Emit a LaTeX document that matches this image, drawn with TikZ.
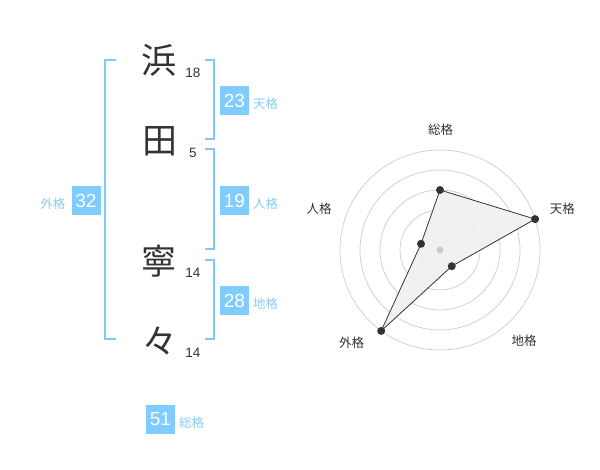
\documentclass[tikz,border=0pt]{standalone}
\usepackage{fontspec}
\setmainfont{Liberation Sans}
\newfontfamily\jp{Noto Sans CJK JP}
\definecolor{brk}{HTML}{80C8FA}
\definecolor{boxc}{HTML}{80CCFF}
\definecolor{lbl}{HTML}{88CCF2}
\definecolor{ink}{HTML}{333333}
\definecolor{ring}{HTML}{CCCCCC}
\tikzset{
  kanji/.style={font=\jp\fontsize{35}{35}\selectfont, text=ink, inner sep=0pt},
  strokes/.style={font=\fontsize{13.5}{14}\selectfont, text=ink, inner sep=0pt},
  numbox/.style={fill=boxc, minimum width=29pt, minimum height=29pt, inner sep=0pt, text=white, font=\fontsize{19}{19}\selectfont},
  kaku/.style={font=\jp\fontsize{12.5}{13}\selectfont, text=lbl, inner sep=0pt},
  bracket/.style={draw=brk, line width=2pt},
  radlbl/.style={font=\jp\fontsize{12.5}{13}\selectfont, text=ink, inner sep=0pt},
  ringc/.style={draw=ring, line width=0.7pt},
  dot/.style={circle, fill=ink, minimum size=8pt, inner sep=0pt},
}
\begin{document}
\begin{tikzpicture}[x=1pt,y=-1pt]
\useasboundingbox (0,0) rectangle (600,470);
% characters
\node[kanji] (c1) at (159,60) {浜};
\node[kanji] (c2) at (160,141) {田};
\node[kanji] (c3) at (159,261) {寧};
\node[kanji] (c4) at (160,341) {々};
\node[strokes] (s1) at (193,73.3) {18};
\node[strokes] (s2) at (193,152.7) {5};
\node[strokes] (s3) at (193,273.3) {14};
\node[strokes] (s4) at (193,353.3) {14};
% brackets
\draw[bracket] (115.7,60) -- (105,60) -- (105,339.5) -- (115.7,339.5);
\draw[bracket] (205,60) -- (214.3,60) -- (214.3,139.3) -- (205,139.3);
\draw[bracket] (205,149.3) -- (214.3,149.3) -- (214.3,249.3) -- (205,249.3);
\draw[bracket] (205,260) -- (214.3,260) -- (214.3,339.5) -- (205,339.5);
% boxes
\node[numbox] (b23) at (234.5,100.5) {23};
\node[kaku, anchor=west] (l23) at (253,104) {天格};
\node[numbox] (b19) at (234.5,200.5) {19};
\node[kaku, anchor=west] (l19) at (253,204) {人格};
\node[numbox] (b28) at (234.5,300.5) {28};
\node[kaku, anchor=west] (l28) at (253,304) {地格};
\node[numbox] (b32) at (86,200.5) {32};
\node[kaku, anchor=east] (l32) at (65.5,204) {外格};
\node[numbox] (b51) at (160.5,419) {51};
\node[kaku, anchor=west] (l51) at (179,423) {総格};
% radar
\coordinate (ctr) at (440,250);
\foreach \r in {20,40,60,80,100} \draw[ringc] (ctr) circle[radius=\r];
\coordinate (pS) at (440,190);
\coordinate (pT) at (535.1,219.1);
\coordinate (pC) at (451.8,266.2);
\coordinate (pG) at (381.2,330.9);
\coordinate (pJ) at (421,243.8);
\fill[black!6, opacity=0.9] (pS) -- (pT) -- (pC) -- (pG) -- (pJ) -- cycle;
\draw[ink, line width=0.8pt] (pS) -- (pT) -- (pC) -- (pG) -- (pJ) -- cycle;
\node[circle, fill=ring, minimum size=7pt, inner sep=0pt] (cdot) at (ctr) {};
\foreach \p in {pS,pT,pC,pG,pJ} \node[dot] at (\p) {};
\node[radlbl] (rS) at (440.5,130) {総格};
\node[radlbl] (rT) at (562.3,208.7) {天格};
\node[radlbl] (rJ) at (319,208.7) {人格};
\node[radlbl] (rG) at (351.7,342.3) {外格};
\node[radlbl] (rC) at (524,341) {地格};
\end{tikzpicture}
\end{document}
